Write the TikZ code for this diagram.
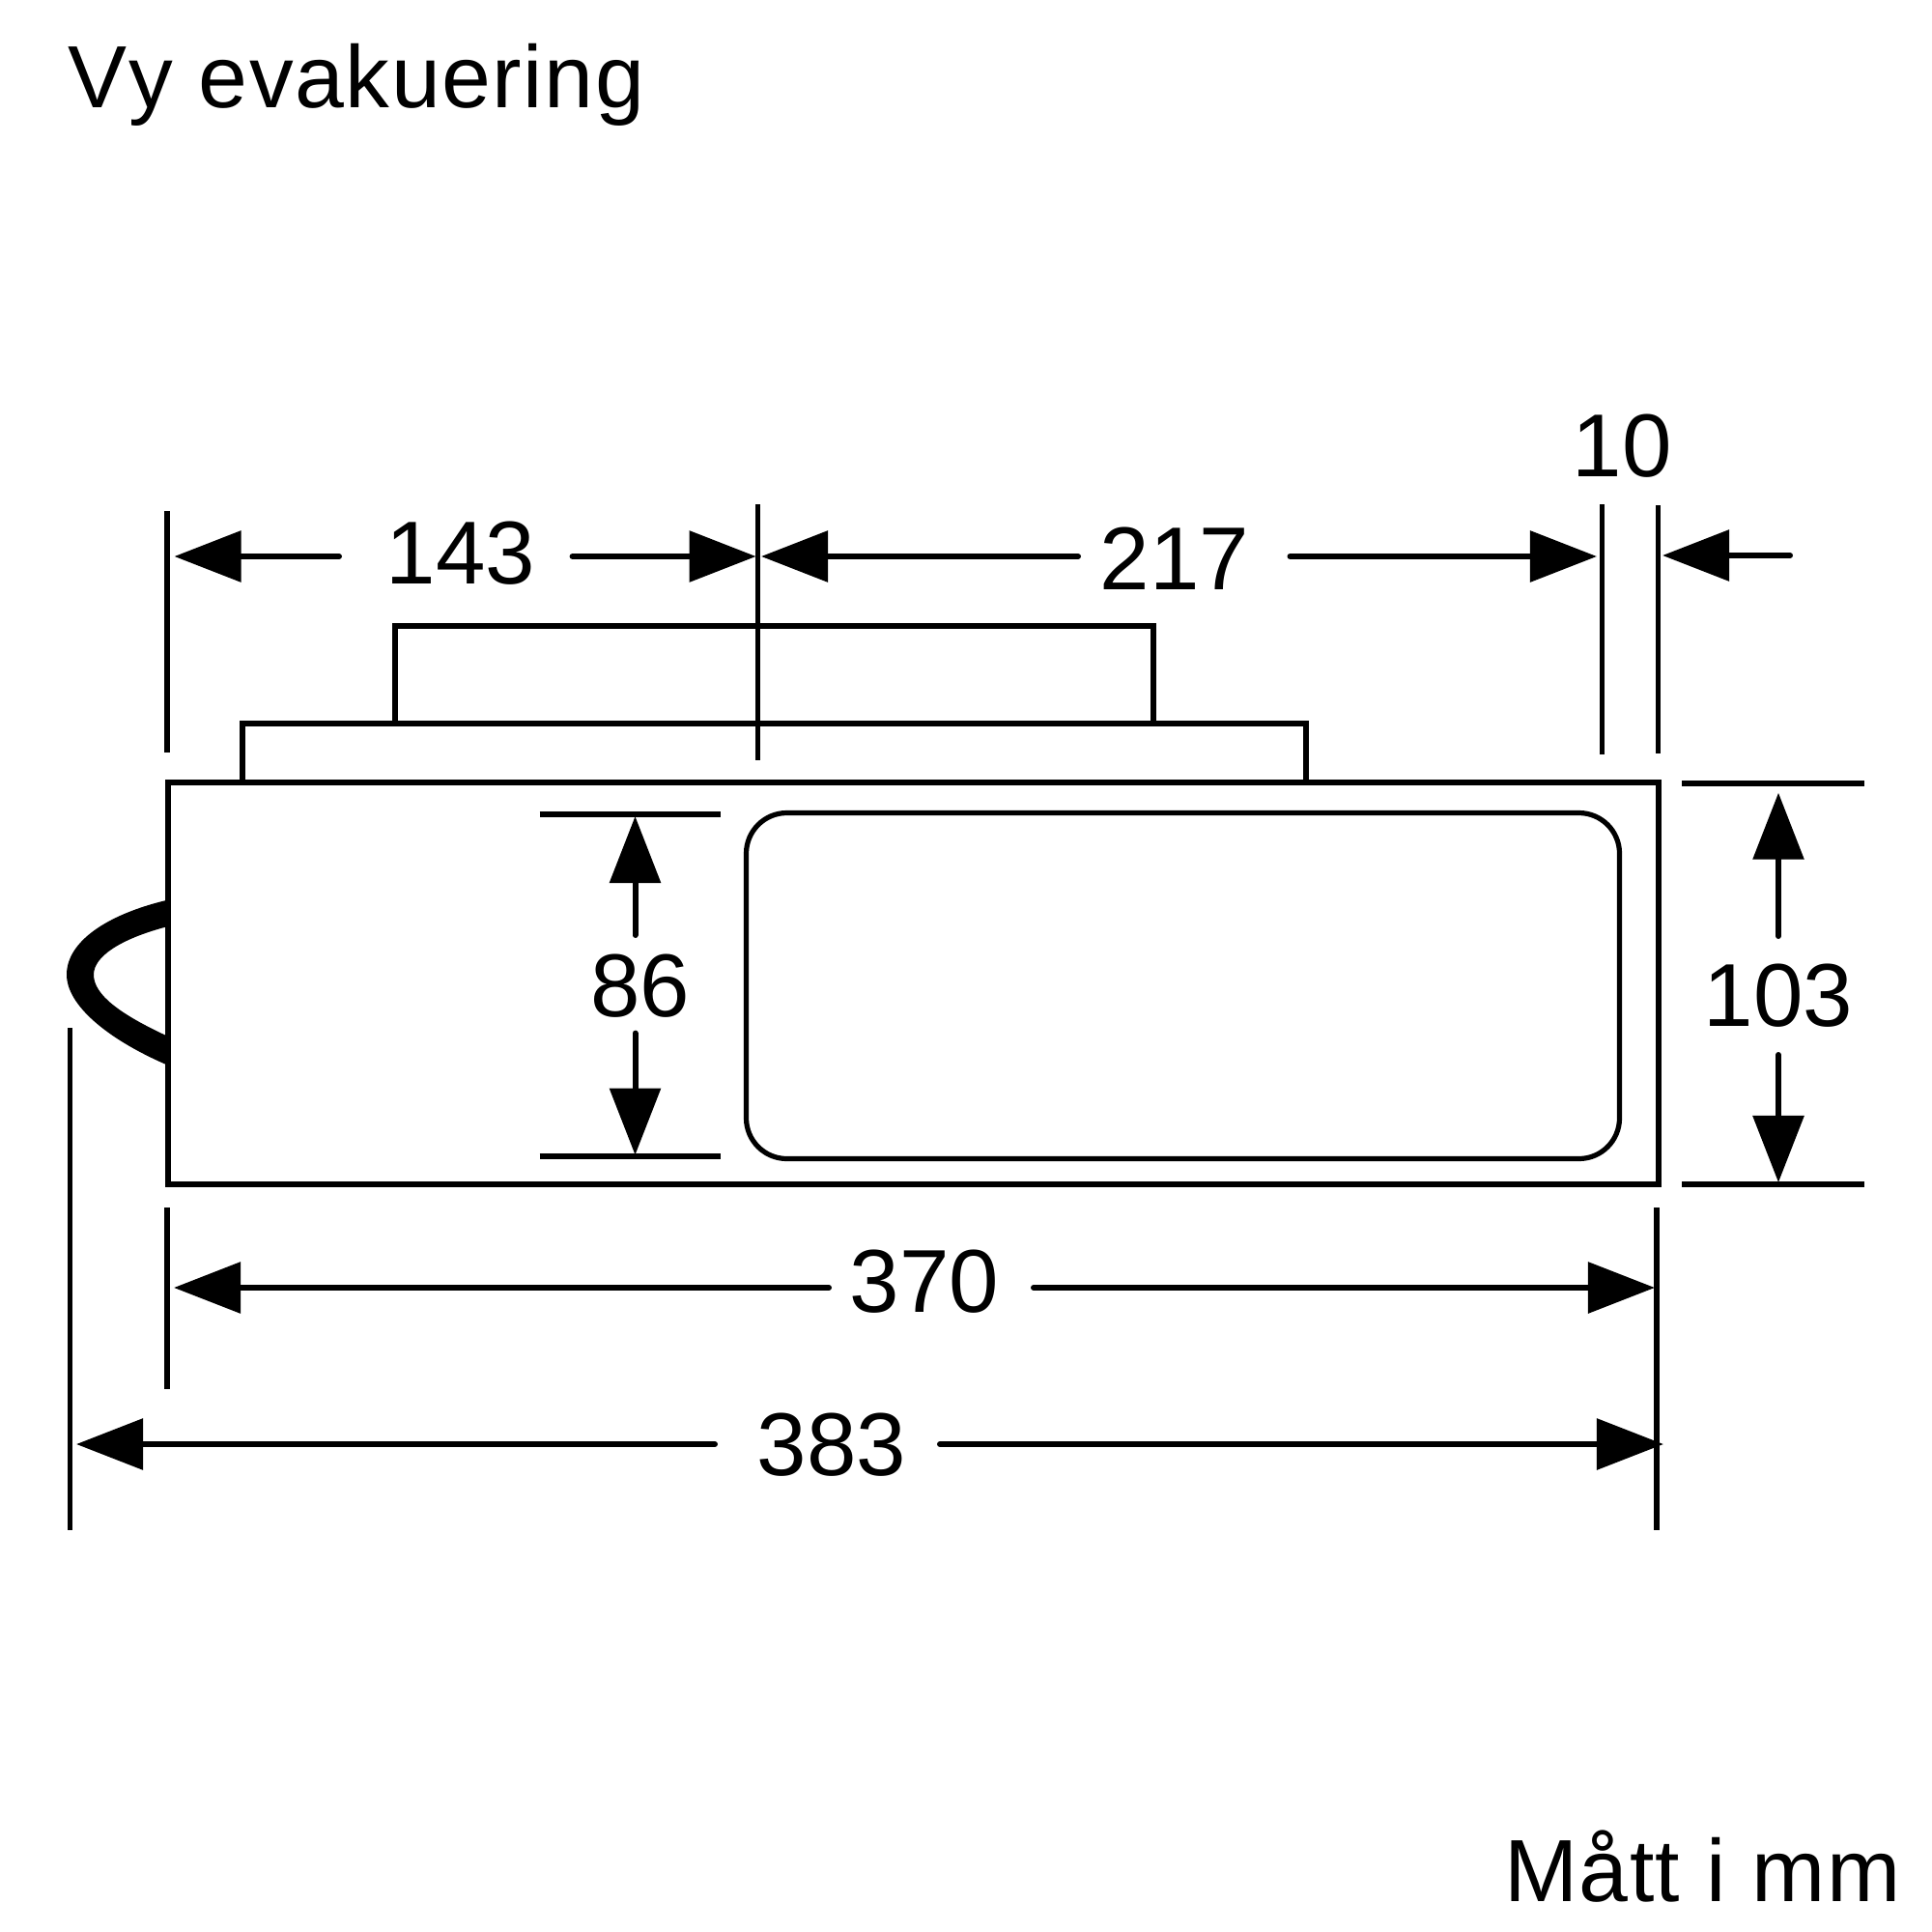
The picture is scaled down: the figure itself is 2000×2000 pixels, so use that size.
\documentclass[tikz,border=0pt]{standalone}
\usepackage{fontspec}
\setmainfont{Liberation Sans}
\newfontfamily\spacedfont[LetterSpace=1.7,Kerning=Off]{Liberation Sans}
\newfontfamily\unitfont[LetterSpace=1.6,Kerning=Off]{Liberation Sans}
\usetikzlibrary{arrows.meta}
\tikzset{
  outline/.style={draw=black,line width=0.6mm,line join=miter},
  extline/.style={draw=black,line width=0.55mm,line cap=butt},
  dimarrow/.style={draw=black,line width=0.6mm,line cap=round,-{Triangle[length=6.9mm,width=5.2mm,sep=0pt]}},
  dimlabel/.style={anchor=base,inner sep=0pt,font=\fontsize{26.3}{32}\selectfont},
  cornerlabel/.style={inner sep=0pt},
}
\newcommand{\dimarr}[3]{%
  \coordinate (#1a) at #2;
  \coordinate (#1b) at #3;
  \draw[dimarrow] (#1a) -- (#1b);}
\newcommand{\extln}[3]{%
  \coordinate (#1a) at #2;
  \coordinate (#1b) at #3;
  \draw[extline] (#1a) -- (#1b);}
\begin{document}
\begin{tikzpicture}[x=0.01cm,y=-0.01cm]
\useasboundingbox (0,0) rectangle (2000,2000);
% housing
\draw[outline] (174,809.5) rectangle (1716.5,1226);
\draw[outline] (251,809) -- (251,749) -- (1352,749) -- (1352,809);
\draw[outline] (408.5,749) -- (408.5,647.5) -- (1194,647.5) -- (1194,749);
\draw[outline,line width=0.52mm,rounded corners=4.2mm] (772.5,841.5) rectangle (1676.5,1199.5);
% handle
\fill[black] (172,932) .. controls (110,947) and (69,975) .. (69,1009)
  .. controls (69,1040) and (110,1075) .. (172,1102) -- (172,1072)
  .. controls (125,1050) and (97,1030) .. (97,1009)
  .. controls (97,990) and (125,972) .. (172,959.5) -- cycle;
% extension lines
\extln{e1}{(173,529)}{(173,779)}
\extln{e2}{(784.5,522)}{(784.5,787)}
\extln{e3}{(1658.3,522)}{(1658.3,781)}
\extln{e4}{(1716.3,523)}{(1716.3,780)}
\extln{e5}{(1741,811)}{(1930,811)}
\extln{e6}{(1741,1226)}{(1930,1226)}
\extln{e7}{(558.7,843)}{(745.8,843)}
\extln{e8}{(558.7,1197)}{(745.8,1197)}
\extln{e9}{(173,1250)}{(173,1438)}
\extln{e10}{(1715,1250)}{(1715,1584)}
\extln{e11}{(72.5,1064)}{(72.5,1584)}
% dimension arrows
\dimarr{a1}{(351,576)}{(180.5,576)}
\dimarr{a2}{(592.6,576)}{(782.6,576)}
\dimarr{a3}{(1116,576)}{(788,576)}
\dimarr{a4}{(1335.5,576)}{(1653,576)}
\dimarr{a5}{(1853,575)}{(1721,575)}
\dimarr{a6}{(1841,969)}{(1841,820.7)}
\dimarr{a7}{(1841,1092)}{(1841,1224)}
\dimarr{a8}{(657.5,968)}{(657.5,845)}
\dimarr{a9}{(657.5,1069.6)}{(657.5,1195.6)}
\dimarr{a10}{(858,1333)}{(180,1333)}
\dimarr{a11}{(1070,1333)}{(1713,1333)}
\dimarr{a12}{(740,1495)}{(79,1495)}
\dimarr{a13}{(973,1495)}{(1722,1495)}
% labels
\node[dimlabel] (l143) at (477,604) {143};
\node[dimlabel] (l217) at (1216,610) {217};
\node[dimlabel] (l10) at (1679,493) {10};
\node[dimlabel] (l86) at (663,1052.6) {86};
\node[dimlabel] (l103) at (1841,1062) {103};
\node[dimlabel] (l370) at (957,1358) {370};
\node[dimlabel] (l383) at (861,1527) {383};
\node[cornerlabel,anchor=base west,font=\spacedfont\fontsize{26}{32}\selectfont] (title) at (70,112) {Vy evakuering};
\node[cornerlabel,anchor=base east,font=\unitfont\fontsize{26}{32}\selectfont] (unit) at (1968,1968) {Mått i mm};
\end{tikzpicture}
\end{document}
